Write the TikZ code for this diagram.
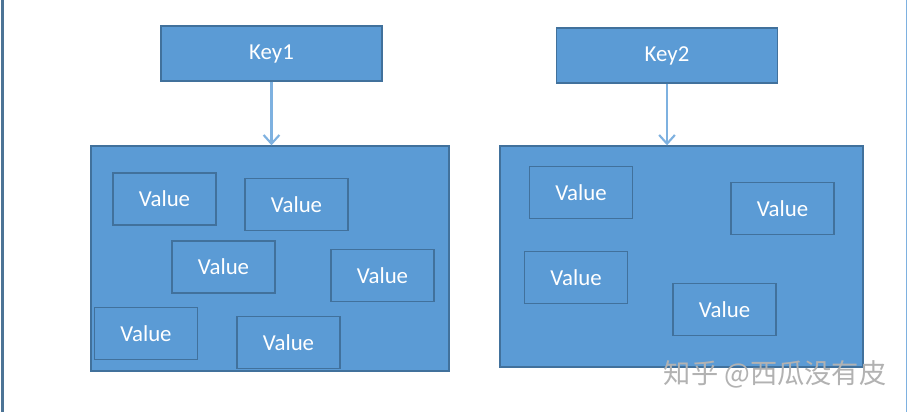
\documentclass[tikz,border=0pt]{standalone}
\usepackage{fontspec}
\setmainfont{Carlito}
\newfontfamily\cjk{Noto Sans CJK SC}
\usetikzlibrary{arrows.meta}
\definecolor{boxblue}{HTML}{5B9BD5}
\definecolor{edgeblue}{HTML}{41719C}
\definecolor{arrowblue}{HTML}{7EB1E0}

\begin{document}
\begin{tikzpicture}[x=0.02cm,y=-0.02cm,
  keybox/.style={draw=edgeblue, fill=boxblue, line width=0.8pt, minimum width=4.42cm, minimum height=1.1cm, text=white, font=\fontsize{13}{15}\selectfont},
  valbox/.style={draw=edgeblue, line width=0.8pt, minimum width=2.06cm, minimum height=1.04cm, text=white, font=\fontsize{13}{15}\selectfont},
  bigbox/.style={draw=edgeblue, fill=boxblue, line width=0.8pt},
  link/.style={arrowblue, line width=1.2pt, -{Straight Barb[length=5pt,width=9pt]}}]
\useasboundingbox (0,0) rectangle (908,412);
\fill[white] (0,0) rectangle (908,412);
\draw[line width=1.2pt, draw=edgeblue!80!gray] (2.5,0) -- (2.5,412);
\draw[line width=1pt, draw=arrowblue] (906.5,0) -- (906.5,412);

% the two keys
\node[keybox] (key1) at (271.5,53.5) {Key1};
\node[keybox] (key2) at (667,55.5) {Key2};

% buckets
\node[bigbox, minimum width=7.16cm, minimum height=4.5cm] (bucket1) at (270,258.5) {};
\node[bigbox, minimum width=7.26cm, minimum height=4.42cm] (bucket2) at (681.5,256.5) {};

\draw[link] (key1.south) -- (key1.south |- bucket1.north);
\draw[link] (key2.south) -- (key2.south |- bucket2.north);

% values of Key1
\node[valbox] (v1) at (164.5,199) {Value};
\node[valbox] (v2) at (296.5,204.5) {Value};
\node[valbox] (v3) at (223.5,267) {Value};
\node[valbox] (v4) at (382.5,275.5) {Value};
\node[valbox] (v5) at (146,333.5) {Value};
\node[valbox] (v6) at (288.5,342.5) {Value};

% values of Key2
\node[valbox] (w1) at (581,192.5) {Value};
\node[valbox] (w2) at (782.5,208.5) {Value};
\node[valbox] (w3) at (576,277.5) {Value};
\node[valbox] (w4) at (724.5,309.5) {Value};

\node[text=gray!60, font=\cjk\fontsize{15.5}{18}\selectfont] (mark) at (775,374) {知乎 @西瓜没有皮};
\end{tikzpicture}
\end{document}
